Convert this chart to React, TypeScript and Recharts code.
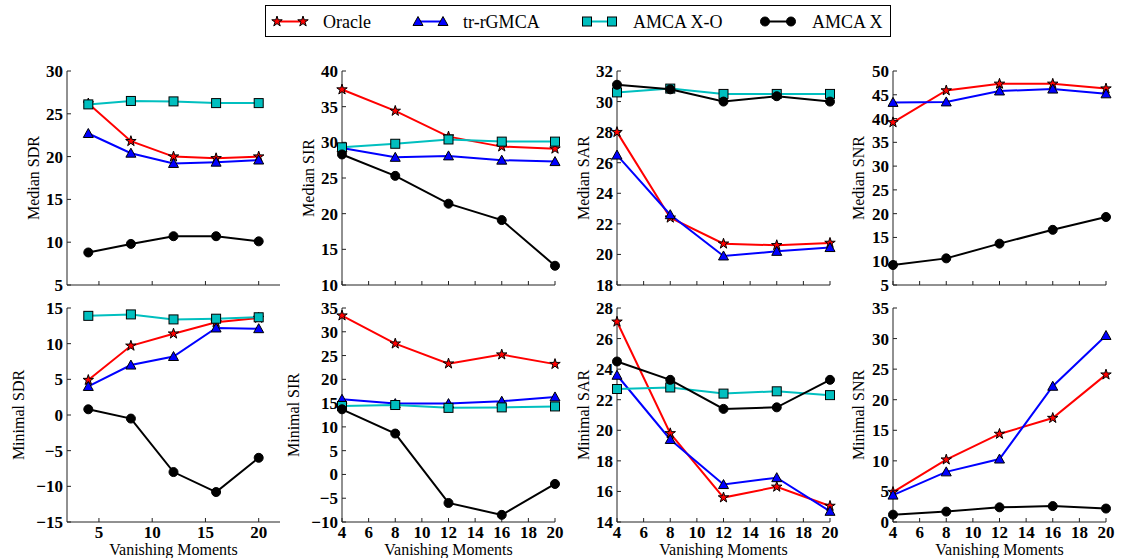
import { Line, LineChart, XAxis, YAxis } from "recharts";

// x values shared by every panel
const vanishingMoments = [4, 8, 12, 16, 20];

const seriesNames = ["Oracle", "tr-rGMCA", "AMCA X-O", "AMCA X"];

const medianSDR = {
  oracle: [26.2, 21.8, 20.0, 19.8, 20.0],
  trRGMCA: [22.7, 20.4, 19.2, 19.35, 19.6],
  amcaXO: [26.1, 26.5, 26.45, 26.25, 26.25],
  amcaX: [8.8, 9.8, 10.7, 10.7, 10.1],
};
const medianSIR = {
  oracle: [37.4, 34.4, 30.8, 29.4, 29.1],
  trRGMCA: [29.2, 27.9, 28.1, 27.5, 27.3],
  amcaXO: [29.3, 29.8, 30.4, 30.1, 30.1],
  amcaX: [28.3, 25.3, 21.4, 19.1, 12.7],
};
const medianSAR = {
  oracle: [28.0, 22.4, 20.7, 20.6, 20.75],
  trRGMCA: [26.5, 22.6, 19.9, 20.2, 20.45],
  amcaXO: [30.6, 30.85, 30.5, 30.5, 30.5],
  amcaX: [31.1, 30.8, 30.0, 30.35, 30.0],
};
const medianSNR = {
  oracle: [39.2, 45.9, 47.3, 47.3, 46.3],
  trRGMCA: [43.4, 43.5, 45.8, 46.2, 45.2],
  amcaXO: [null, null, null, null, null],
  amcaX: [9.2, 10.6, 13.7, 16.6, 19.3],
};
const minimalSDR = {
  oracle: [4.9, 9.7, 11.4, 13.0, 13.6],
  trRGMCA: [4.0, 7.0, 8.2, 12.2, 12.1],
  amcaXO: [13.9, 14.1, 13.4, 13.5, 13.7],
  amcaX: [0.8, -0.5, -8.0, -10.8, -6.0],
};
const minimalSIR = {
  oracle: [33.4, 27.5, 23.3, 25.2, 23.2],
  trRGMCA: [15.8, 14.9, 14.9, 15.4, 16.3],
  amcaXO: [14.4, 14.6, 14.0, 14.1, 14.3],
  amcaX: [13.7, 8.6, -6.0, -8.5, -2.0],
};
const minimalSAR = {
  oracle: [27.1, 19.8, 15.6, 16.3, 15.05],
  trRGMCA: [23.6, 19.4, 16.45, 16.9, 14.7],
  amcaXO: [22.7, 22.8, 22.4, 22.55, 22.3],
  amcaX: [24.5, 23.3, 21.4, 21.5, 23.3],
};
const minimalSNR = {
  oracle: [4.9, 10.2, 14.4, 17.0, 24.1],
  trRGMCA: [4.4, 8.2, 10.3, 22.2, 30.5],
  amcaXO: [null, null, null, null, null],
  amcaX: [1.2, 1.7, 2.4, 2.6, 2.2],
};

// tick labels
const sdrXTicks = [5, 10, 15, 20];
const xTicks = [4, 6, 8, 10, 12, 14, 16, 18, 20];
const medianSDRTicks = [5, 10, 15, 20, 25, 30];
const medianSIRTicks = [10, 15, 20, 25, 30, 35, 40];
const medianSARTicks = [18, 20, 22, 24, 26, 28, 30, 32];
const medianSNRTicks = [5, 10, 15, 20, 25, 30, 35, 40, 45, 50];
const minimalSDRTicks = [-15, -10, -5, 0, 5, 10, 15];
const minimalSIRTicks = [-10, -5, 0, 5, 10, 15, 20, 25, 30, 35];
const minimalSARTicks = [14, 16, 18, 20, 22, 24, 26, 28];
const minimalSNRTicks = [0, 5, 10, 15, 20, 25, 30, 35];

const FONT = "Liberation Serif, DejaVu Serif, serif";
const PLOT_W = 213;
const PLOT_H = 214;
const AXIS_COLOR = "#222";

const Star = ({ cx, cy, r = 5.5 }: { cx: number; cy: number; r?: number }) => {
  const pts: string[] = [];
  for (let i = 0; i < 10; i++) {
    const rad = i % 2 === 0 ? r : r * 0.382;
    const a = -Math.PI / 2 + (i * Math.PI) / 5;
    pts.push(`${cx + rad * Math.cos(a)},${cy + rad * Math.sin(a)}`);
  }
  return <polygon points={pts.join(" ")} fill="#ff0000" stroke="#000" strokeWidth={1} />;
};

const Marker = ({ kind, cx, cy }: { kind: string; cx: number; cy: number }) => {
  if (kind === "star") return <Star cx={cx} cy={cy} />;
  if (kind === "triangle")
    return (
      <polygon
        points={`${cx},${cy - 5} ${cx - 5},${cy + 4} ${cx + 5},${cy + 4}`}
        fill="#0000ff"
        stroke="#000"
        strokeWidth={1}
      />
    );
  if (kind === "square")
    return (
      <rect x={cx - 4.5} y={cy - 4.5} width={9} height={9} fill="#00bfbf" stroke="#000" strokeWidth={1} />
    );
  return <circle cx={cx} cy={cy} r={4.5} fill="#000" stroke="#000" strokeWidth={1} />;
};

const seriesStyle = [
  { key: "oracle", color: "#ff0000", marker: "star" },
  { key: "trRGMCA", color: "#0000ff", marker: "triangle" },
  { key: "amcaXO", color: "#00bfbf", marker: "square" },
  { key: "amcaX", color: "#000000", marker: "circle" },
];

const makeDot = (kind: string) => (props: any) => {
  const { cx, cy, index } = props;
  if (cx == null || cy == null || props.value == null) return <g key={`d-${index}`} />;
  return (
    <g key={`d-${index}`}>
      <Marker kind={kind} cx={cx} cy={cy} />
    </g>
  );
};

const fmt = (v: number) => String(v).replace("-", "\u2212");

interface PanelProps {
  title?: string;
  yLabel: string;
  values: Record<string, (number | null)[]>;
  yDomain: [number, number];
  yTicks: number[];
  xDomain: [number, number];
  xAxisTicks: number[];
  plotLeft: number;
  plotTop: number;
  showX: boolean;
  labelGap: number;
}

const Panel = ({
  title,
  yLabel,
  values,
  yDomain,
  yTicks,
  xDomain,
  xAxisTicks,
  plotLeft,
  plotTop,
  showX,
  labelGap,
}: PanelProps) => {
  const rows = vanishingMoments.map((vm, i) => ({
    vm,
    oracle: values.oracle[i],
    trRGMCA: values.trRGMCA[i],
    amcaXO: values.amcaXO[i],
    amcaX: values.amcaX[i],
  }));
  const marginTop = 25;
  const yAxisW = 60;
  const xAxisH = showX ? 36 : 14;
  const tickStyle = { fill: "#000", fontSize: 17, fontWeight: 700, fontFamily: FONT };
  const labelStyle = { fill: "#000", fontSize: 16, fontFamily: FONT };

  return (
    <div style={{ position: "absolute", left: plotLeft - yAxisW, top: plotTop - marginTop }}>
      <LineChart
        width={yAxisW + PLOT_W + 14}
        height={marginTop + PLOT_H + xAxisH}
        data={rows}
        margin={{ top: marginTop, right: 14, bottom: 0, left: 0 }}
        style={{ fontFamily: FONT }}
      >
        <XAxis
          xAxisId="b"
          dataKey="vm"
          type="number"
          domain={xDomain}
          ticks={xAxisTicks}
          interval={0}
          height={xAxisH}
          tickSize={-4}
          tickMargin={8}
          tick={tickStyle}
          tickFormatter={showX ? fmt : () => ""}
          axisLine={{ stroke: AXIS_COLOR }}
          tickLine={{ stroke: AXIS_COLOR }}
          label={
            showX
              ? { value: "Vanishing Moments", position: "insideBottom", offset: 3, ...labelStyle }
              : undefined
          }
        />
        <XAxis
          xAxisId="t"
          orientation="top"
          dataKey="vm"
          type="number"
          domain={xDomain}
          ticks={xAxisTicks}
          interval={0}
          height={0}
          tickSize={-4}
          tickFormatter={() => ""}
          axisLine={{ stroke: AXIS_COLOR }}
          tickLine={{ stroke: AXIS_COLOR }}
          label={
            title
              ? { value: title, position: "top", offset: 3, fill: "#000", fontSize: 18, fontFamily: FONT }
              : undefined
          }
        />
        <YAxis
          yAxisId="l"
          type="number"
          domain={yDomain}
          ticks={yTicks}
          interval={0}
          width={yAxisW}
          tickSize={-4}
          tickMargin={8}
          tick={tickStyle}
          tickFormatter={fmt}
          axisLine={{ stroke: AXIS_COLOR }}
          tickLine={{ stroke: AXIS_COLOR }}
          label={{
            value: yLabel,
            angle: -90,
            position: "insideLeft",
            offset: yAxisW - labelGap,
            style: { textAnchor: "middle" },
            ...labelStyle,
          }}
        />
        <YAxis
          yAxisId="r"
          orientation="right"
          type="number"
          domain={yDomain}
          ticks={yTicks}
          interval={0}
          width={0}
          tickSize={-4}
          tickFormatter={() => ""}
          axisLine={{ stroke: AXIS_COLOR }}
          tickLine={{ stroke: AXIS_COLOR }}
        />
        {seriesStyle
          .filter((s) => values[s.key].some((v) => v != null))
          .map((s) => (
            <Line
              key={s.key}
              xAxisId="b"
              yAxisId="l"
              dataKey={s.key}
              stroke={s.color}
              strokeWidth={2}
              dot={makeDot(s.marker)}
              activeDot={false}
              isAnimationActive={false}
            />
          ))}
      </LineChart>
    </div>
  );
};

const legendItems = [
  { x1: 277, x2: 303, textX: 323 },
  { x1: 418, x2: 443, textX: 463 },
  { x1: 587, x2: 612, textX: 633 },
  { x1: 765, x2: 791, textX: 812 },
];

const Legend = () => (
  <svg width={1121} height={45} style={{ position: "absolute", left: 0, top: 0 }}>
    <rect x={265.5} y={5.5} width={625} height={31} fill="#fff" stroke="#000" strokeWidth={1} />
    {seriesStyle.map((s, i) => {
      const it = legendItems[i];
      return (
        <g key={s.key}>
          <line x1={it.x1} x2={it.x2} y1={21.5} y2={21.5} stroke={s.color} strokeWidth={2} />
          <Marker kind={s.marker} cx={it.x1} cy={21.5} />
          <Marker kind={s.marker} cx={it.x2} cy={21.5} />
          <text x={it.textX} y={27.5} fontSize={18} fontFamily={FONT} fill="#000">
            {seriesNames[i]}
          </text>
        </g>
      );
    })}
  </svg>
);

const colLeft = [67, 342, 617, 893];
const TOP_ROW = 71;
const BOTTOM_ROW = 308;

export default function App() {
  return (
    <div
      style={{
        position: "absolute",
        left: 0,
        top: 0,
        width: 1121,
        height: 560,
        background: "#fff",
        overflow: "hidden",
        fontFamily: FONT,
      }}
    >
      <Legend />
      <Panel title="SDR" yLabel="Median SDR" values={medianSDR} yDomain={[5, 30]} yTicks={medianSDRTicks}
        xDomain={[2, 22]} xAxisTicks={sdrXTicks} plotLeft={colLeft[0]} plotTop={TOP_ROW} showX={false} labelGap={34} />
      <Panel title="SIR" yLabel="Median SIR" values={medianSIR} yDomain={[10, 40]} yTicks={medianSIRTicks}
        xDomain={[4, 20]} xAxisTicks={xTicks} plotLeft={colLeft[1]} plotTop={TOP_ROW} showX={false} labelGap={34} />
      <Panel title="SAR" yLabel="Median SAR" values={medianSAR} yDomain={[18, 32]} yTicks={medianSARTicks}
        xDomain={[4, 20]} xAxisTicks={xTicks} plotLeft={colLeft[2]} plotTop={TOP_ROW} showX={false} labelGap={34} />
      <Panel title="SNR" yLabel="Median SNR" values={medianSNR} yDomain={[5, 50]} yTicks={medianSNRTicks}
        xDomain={[4, 20]} xAxisTicks={xTicks} plotLeft={colLeft[3]} plotTop={TOP_ROW} showX={false} labelGap={35} />
      <Panel yLabel="Minimal SDR" values={minimalSDR} yDomain={[-15, 15]} yTicks={minimalSDRTicks}
        xDomain={[2, 22]} xAxisTicks={sdrXTicks} plotLeft={colLeft[0]} plotTop={BOTTOM_ROW} showX labelGap={49} />
      <Panel yLabel="Minimal SIR" values={minimalSIR} yDomain={[-10, 35]} yTicks={minimalSIRTicks}
        xDomain={[4, 20]} xAxisTicks={xTicks} plotLeft={colLeft[1]} plotTop={BOTTOM_ROW} showX labelGap={49} />
      <Panel yLabel="Minimal SAR" values={minimalSAR} yDomain={[14, 28]} yTicks={minimalSARTicks}
        xDomain={[4, 20]} xAxisTicks={xTicks} plotLeft={colLeft[2]} plotTop={BOTTOM_ROW} showX labelGap={34} />
      <Panel yLabel="Minimal SNR" values={minimalSNR} yDomain={[0, 35]} yTicks={minimalSNRTicks}
        xDomain={[4, 20]} xAxisTicks={xTicks} plotLeft={colLeft[3]} plotTop={BOTTOM_ROW} showX labelGap={35} />
    </div>
  );
}
